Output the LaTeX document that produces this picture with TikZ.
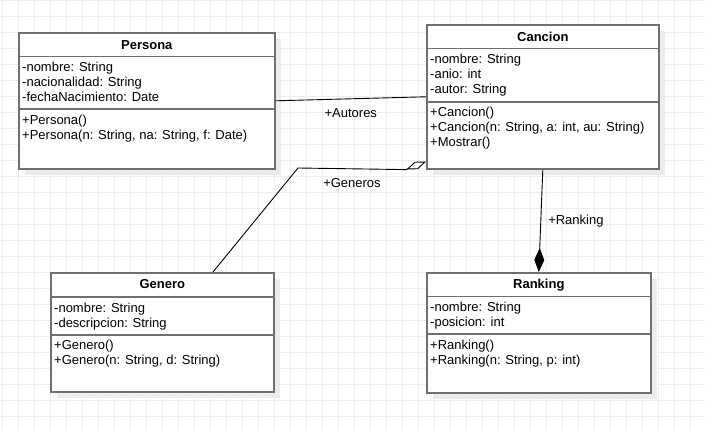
\documentclass[tikz,border=0pt]{standalone}
\usepackage{fontspec}
\setmainfont{Liberation Sans}
\usetikzlibrary{calc, arrows.meta, shadows}

\definecolor{boxgray}{RGB}{112,112,112}
\definecolor{gridgray}{RGB}{238,238,238}
\definecolor{shadegray}{RGB}{236,236,236}

\begin{document}
\begin{tikzpicture}[x=1pt, y=-1pt,
  gridline/.style={draw=gridgray, line width=0.8pt},
  classbox/.style={draw=boxgray, line width=1.6pt, fill=white, anchor=north west, inner sep=0pt,
    drop shadow={shadow xshift=6pt, shadow yshift=-6pt, fill=shadegray, opacity=1}},
  sepline/.style={draw=boxgray, line width=1.6pt},
  classname/.style={font=\fontsize{13}{15}\selectfont\bfseries, anchor=base, inner sep=0pt},
  member/.style={font=\fontsize{13}{15}\selectfont, anchor=base west, inner sep=0pt},
  assoc/.style={draw=black, line width=0.9pt},
  linklabel/.style={font=\fontsize{13}{15}\selectfont, inner sep=0pt}]

% Background grid
\useasboundingbox (0,0) rectangle (705,430);
\foreach \gx in {2,18,...,705} \draw[gridline] (\gx,0) -- (\gx,430);
\foreach \gy in {0,16,...,430} \draw[gridline] (0,\gy) -- (705,\gy);

% Class: Persona
\node[classbox, minimum width=256pt, minimum height=136pt] (persona) at (18,32) {};
\node[classname] (persona-title) at ($(persona.north)+(0,17.3)$) {Persona};
\draw[sepline] ($(persona.north west)+(0,24.7)$) -- ($(persona.north east)+(0,24.7)$);
\draw[sepline] ($(persona.north west)+(0,77.3)$) -- ($(persona.north east)+(0,77.3)$);
\foreach \m [count=\i] in {-nombre: String, -nacionalidad: String, -fechaNacimiento: Date}
  \node[member] (persona-attr\i) at ($(persona.north west)+(4,24.7+15*\i)$) {\m};
\foreach \m [count=\i] in {+Persona(), {+Persona(n: String, na: String, f: Date)}}
  \node[member] (persona-op\i) at ($(persona.north west)+(4,77.3+15*\i)$) {\m};

% Class: Cancion
\node[classbox, minimum width=232pt, minimum height=144pt] (cancion) at (426,24) {};
\node[classname] (cancion-title) at ($(cancion.north)+(0,17.3)$) {Cancion};
\draw[sepline] ($(cancion.north west)+(0,24.7)$) -- ($(cancion.north east)+(0,24.7)$);
\draw[sepline] ($(cancion.north west)+(0,78)$) -- ($(cancion.north east)+(0,78)$);
\foreach \m [count=\i] in {-nombre: String, -anio: int, -autor: String}
  \node[member] (cancion-attr\i) at ($(cancion.north west)+(4,24.7+15*\i)$) {\m};
\foreach \m [count=\i] in {+Cancion(), {+Cancion(n: String, a: int, au: String)}, +Mostrar()}
  \node[member] (cancion-op\i) at ($(cancion.north west)+(4,78+15*\i)$) {\m};

% Class: Genero
\node[classbox, minimum width=223pt, minimum height=119pt] (genero) at (50,272) {};
\node[classname] (genero-title) at ($(genero.north)+(0,16.8)$) {Genero};
\draw[sepline] ($(genero.north west)+(0,25.3)$) -- ($(genero.north east)+(0,25.3)$);
\draw[sepline] ($(genero.north west)+(0,63)$) -- ($(genero.north east)+(0,63)$);
\foreach \m [count=\i] in {-nombre: String, -descripcion: String}
  \node[member] (genero-attr\i) at ($(genero.north west)+(4,25.3+15*\i)$) {\m};
\foreach \m [count=\i] in {+Genero(), {+Genero(n: String, d: String)}}
  \node[member] (genero-op\i) at ($(genero.north west)+(4,63+15*\i)$) {\m};

% Class: Ranking
\node[classbox, minimum width=224pt, minimum height=120pt] (ranking) at (426,272) {};
\node[classname] (ranking-title) at ($(ranking.north)+(0,16.8)$) {Ranking};
\draw[sepline] ($(ranking.north west)+(0,24.7)$) -- ($(ranking.north east)+(0,24.7)$);
\draw[sepline] ($(ranking.north west)+(0,62.3)$) -- ($(ranking.north east)+(0,62.3)$);
\foreach \m [count=\i] in {-nombre: String, -posicion: int}
  \node[member] (ranking-attr\i) at ($(ranking.north west)+(4,24.7+15*\i)$) {\m};
\foreach \m [count=\i] in {+Ranking(), {+Ranking(n: String, p: int)}}
  \node[member] (ranking-op\i) at ($(ranking.north west)+(4,62.3+15*\i)$) {\m};

% Associations
\draw[assoc] (persona.east) -- (cancion.west)
  node[linklabel, midway, below=9pt] (autores) {+Autores};
\coordinate (generos-bend) at (298,168);
\draw[assoc, -{Diamond[fill=white, length=21pt, width=8pt]}]
  ($(genero.north west)+(163,0)$) -- (generos-bend)
  -- ($(cancion.south west)+(-20,0)$) node[linklabel, midway, below=9pt] (generos) {+Generos}
  -- ($(cancion.south west)+(0,-8)$);
\draw[assoc, -{Diamond[length=24pt, width=10pt]}] (cancion.south) -- (ranking.north)
  node[linklabel, midway, right=7pt] (rank-label) {+Ranking};
\end{tikzpicture}
\end{document}
